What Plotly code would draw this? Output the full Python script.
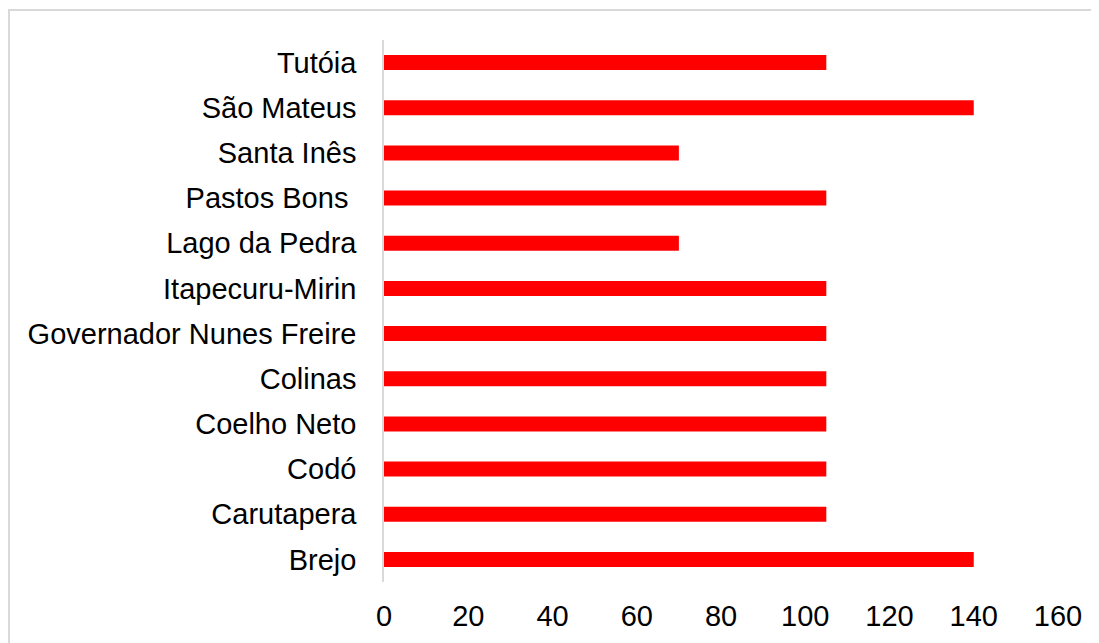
import plotly.graph_objects as go

categories = ["Brejo", "Carutapera", "Codó", "Coelho Neto", "Colinas",
              "Governador Nunes Freire", "Itapecuru-Mirin", "Lago da Pedra",
              "Pastos Bons\u00a0", "Santa Inês", "São Mateus", "Tutóia"]
values = [140, 105, 105, 105, 105, 105, 105, 70, 105, 70, 140, 105]
x_ticks = [0, 20, 40, 60, 80, 100, 120, 140, 160]

# page has an 8px body margin, so the figure is sized/offset accordingly
W, H = 1091, 635
L, R, T, B = 376, 41, 32, 61
pw, ph = W - L - R, H - T - B

fig = go.Figure(go.Bar(
    x=values, y=categories, orientation="h",
    marker=dict(color="#ff0000", line=dict(width=0)),
    hoverinfo="x+y",
))

bx = (1 - L) / pw
by = (H - B - 2) / ph

fig.update_layout(
    width=W, height=H,
    margin=dict(l=L, r=R, t=T, b=B, autoexpand=False),
    paper_bgcolor="white", plot_bgcolor="white",
    font=dict(family="Arial, 'Liberation Sans', sans-serif", size=29, color="#000000"),
    bargap=0.668,
    showlegend=False,
    xaxis=dict(range=[0, 160], tickvals=x_ticks, showgrid=False, zeroline=False,
               showline=False, ticks="outside", ticklen=8,
               tickcolor="rgba(0,0,0,0)", tickfont=dict(size=29)),
    yaxis=dict(type="category", categoryorder="array", categoryarray=categories,
               showgrid=False, zeroline=False, showline=True, linecolor="#d9d9d9",
               linewidth=1.5, ticks="outside", ticklen=20,
               tickcolor="rgba(0,0,0,0)", tickfont=dict(size=29)),
    shapes=[dict(type="rect", xref="paper", yref="paper",
                 x0=bx, x1=1.3, y0=-0.4, y1=by,
                 line=dict(color="#d9d9d9", width=2), fillcolor="rgba(0,0,0,0)",
                 layer="below")],
)

fig.write_html("out.html")
